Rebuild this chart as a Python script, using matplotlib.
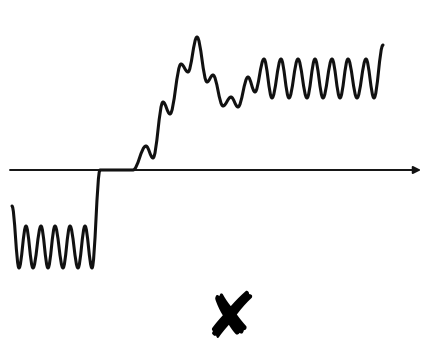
import matplotlib
matplotlib.use("Agg")
import matplotlib.pyplot as plt
from matplotlib.path import Path
from matplotlib.patches import PathPatch

# Signal key points: time position and amplitude (axis at amplitude 0)
t_vals = [12, 19, 26, 33, 41, 48, 55, 63, 70, 78, 85, 92, 100, 133,
          146, 153, 163, 170, 181, 188, 197, 207, 213, 223, 231, 238, 248, 255,
          264, 272, 281, 289, 298, 307, 315, 323, 332, 340, 348, 357, 366, 374, 383]
amp_vals = [-36, -98, -56, -98, -56, -98, -56, -98, -56, -98, -56, -98, 0, 0,
            24, 12, 68, 56, 106, 98, 133, 88, 95, 64, 73, 63, 93, 78,
            111, 72, 111, 72, 111, 72, 111, 72, 111, 72, 111, 72, 111, 72, 125]
axis_range = [10, 421]
mark_text = "\u2718"

fig = plt.figure(figsize=(4.22, 3.45), dpi=100)
ax = fig.add_axes([0, 0, 1, 1])
ax.set_xlim(0, 422)
ax.set_ylim(-175, 170)
ax.axis("off")

# horizontal axis with arrow
ax.annotate("", xy=(axis_range[1], 0), xytext=(axis_range[0], 0),
            arrowprops=dict(arrowstyle="-|>", lw=1.4, color="#111111",
                            mutation_scale=11, shrinkA=0, shrinkB=0))

# smooth wave through extrema (horizontal tangents at each key point)
k = 0.37
verts = [(t_vals[0], amp_vals[0])]
codes = [Path.MOVETO]
for i in range(1, len(t_vals)):
    x0, y0 = t_vals[i - 1], amp_vals[i - 1]
    x1, y1 = t_vals[i], amp_vals[i]
    dx = x1 - x0
    verts += [(x0 + k * dx, y0), (x1 - k * dx, y1), (x1, y1)]
    codes += [Path.CURVE4] * 3
patch = PathPatch(Path(verts, codes), facecolor="none", edgecolor="#111111",
                  lw=2.2, capstyle="round", joinstyle="round")
ax.add_patch(patch)

ax.text(230, -150, mark_text, ha="center", va="center", fontsize=46,
        color="black", family=["DejaVu Sans"])

fig.savefig("out.png", dpi=100)
